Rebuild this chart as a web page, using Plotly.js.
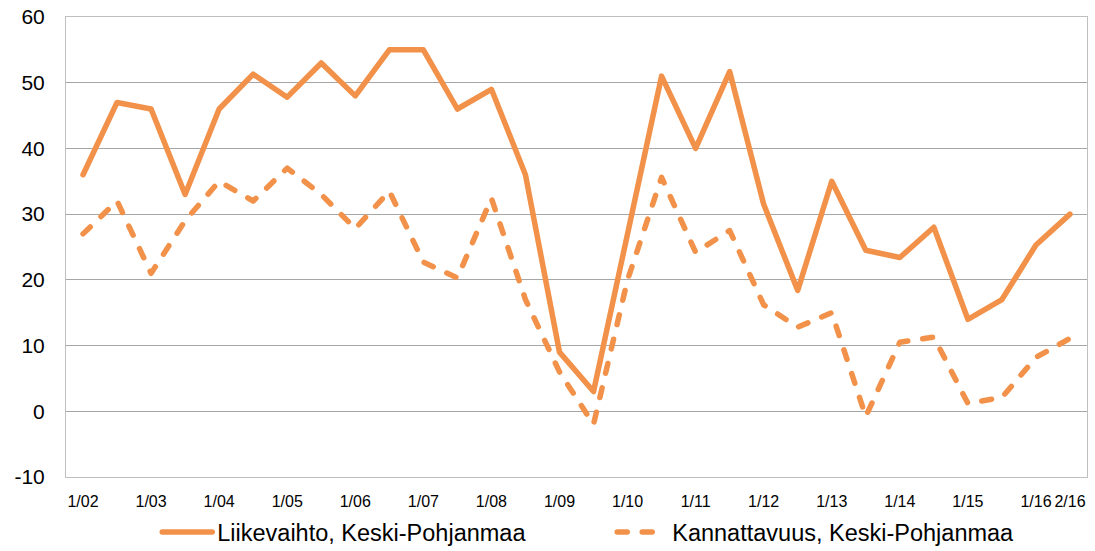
<!DOCTYPE html>
<html>
<head>
<meta charset="utf-8">
<script src="https://cdn.plot.ly/plotly-3.0.1.min.js"></script>
<style>
  html, body { margin: 0; padding: 0; background: #fff; }
  #chart { width: 1095px; height: 551px; }
  .scatterlayer .js-line, .legendlines path { stroke-linecap: round !important; stroke-linejoin: round !important; }
</style>
</head>
<body>
<div id="chart"></div>
<script>
const categories = ["1/02","2/02","1/03","2/03","1/04","2/04","1/05","2/05","1/06","2/06",
  "1/07","2/07","1/08","2/08","1/09","2/09","1/10","2/10","1/11","2/11",
  "1/12","2/12","1/13","2/13","1/14","2/14","1/15","2/15","1/16","2/16"];
const tickLabels = ["1/02","1/03","1/04","1/05","1/06","1/07","1/08","1/09","1/10","1/11",
  "1/12","1/13","1/14","1/15","1/16","2/16"];
const yTickVals = [-10, 0, 10, 20, 30, 40, 50, 60];
const yTickText = ["-10", "0", "10", "20", "30", "40", "50", "60"];
const liikevaihto = [36,47,46,33,46,51.3,47.8,53,48,55,
  55,46,49,36,9,3,27,51,40,51.7,
  31.5,18.4,35,24.5,23.4,28,14,17,25.3,30];
const kannattavuus = [27,32,21,29,35,32,37,33,27.8,33.5,
  22.7,20.3,32.4,17,6,-2,20,35.6,24.2,27.5,
  16.2,12.8,15,-0.8,10.5,11.3,1.2,2.1,8.2,11.1];
const seriesNames = ["Liikevaihto, Keski-Pohjanmaa","Kannattavuus, Keski-Pohjanmaa"];

const color = "#F29149";
const traces = [
  {x: categories, y: liikevaihto, name: seriesNames[0], type: "scatter", mode: "lines",
   line: {color: color, width: 5.5}},
  {x: categories, y: kannattavuus, name: seriesNames[1], type: "scatter", mode: "lines",
   line: {color: color, width: 5.5, dash: "10px,15px"}}
];
const font = "Liberation Sans, Arial, sans-serif";
const layout = {
  width: 1095, height: 551,
  margin: {l: 66, r: 8, t: 17, b: 74, autoexpand: false},
  paper_bgcolor: "#fff", plot_bgcolor: "#fff",
  showlegend: true,
  font: {family: font, color: "#000"},
  xaxis: {
    type: "category", range: [-0.5, 29.5],
    tickmode: "array", tickvals: tickLabels, ticktext: tickLabels,
    showgrid: false, zeroline: false, automargin: false,
    showline: true, mirror: true, linecolor: "#BFBFBF", linewidth: 1,
    ticks: "outside", ticklen: 10, tickcolor: "rgba(0,0,0,0)",
    tickfont: {family: font, size: 16, color: "#000"}
  },
  yaxis: {
    range: [-10, 60], tickmode: "array", tickvals: yTickVals, ticktext: yTickText,
    automargin: false,
    showgrid: true, gridcolor: "#A6A6A6", gridwidth: 1,
    zeroline: false,
    showline: true, mirror: true, linecolor: "#BFBFBF", linewidth: 1,
    ticks: "outside", ticklen: 16, tickcolor: "rgba(0,0,0,0)",
    tickfont: {family: font, size: 21, color: "#000"}
  },
  legend: {
    orientation: "h", x: 0.535, xanchor: "center", y: -0.12, yanchor: "middle",
    font: {family: font, size: 23.5, color: "#000"},
    itemwidth: 50, entrywidth: 390, entrywidthmode: "pixels",
    bgcolor: "rgba(0,0,0,0)"
  }
};
Plotly.newPlot("chart", traces, layout, {displayModeBar: false, staticPlot: true});
</script>
</body>
</html>
